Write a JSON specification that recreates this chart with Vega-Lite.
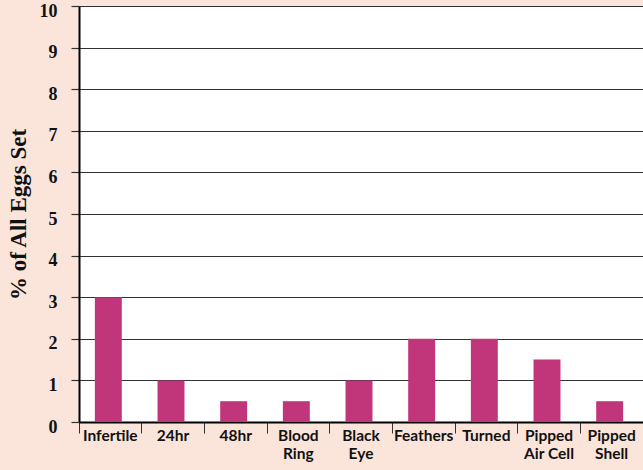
{
  "$schema": "https://vega.github.io/schema/vega-lite/v6.json",
  "width": 564,
  "height": 416,
  "autosize": "none",
  "padding": {"left": 79, "top": 6, "right": 0, "bottom": 48},
  "background": "#fbe5da",
  "config": {"view": {"fill": "white", "stroke": null}},
  "data": {
    "values": [
      {"category": "Infertile", "pct": 3.0},
      {"category": "24hr", "pct": 1.0},
      {"category": "48hr", "pct": 0.5},
      {"category": "Blood Ring", "pct": 0.5},
      {"category": "Black Eye", "pct": 1.0},
      {"category": "Feathers", "pct": 2.0},
      {"category": "Turned", "pct": 2.0},
      {"category": "Pipped Air Cell", "pct": 1.5},
      {"category": "Pipped Shell", "pct": 0.5}
    ]
  },
  "mark": {"type": "bar", "color": "#c1357a", "width": {"band": 0.43}, "xOffset": -2},
  "encoding": {
    "x": {
      "field": "category",
      "type": "nominal",
      "sort": null,
      "scale": {"paddingInner": 0, "paddingOuter": 0},
      "axis": {
        "title": null,
        "labelAngle": 0,
        "labelFont": "Lato",
        "labelFontWeight": "bold",
        "labelFontSize": 15.5,
        "labelColor": "#111",
        "labelPadding": -5,
        "labelLineHeight": 18,
        "labelBaseline": "top",
        "labelOverlap": false,
        "labelExpr": "datum.value == 'Pipped Air Cell' ? ['Pipped', 'Air Cell'] : split(datum.value, ' ')",
        "bandPosition": 0,
        "tickColor": "#333",
        "tickSize": 11,
        "tickWidth": 1,
        "domainColor": "black",
        "domainWidth": 2
      }
    },
    "y": {
      "field": "pct",
      "type": "quantitative",
      "scale": {"domain": [0, 10], "nice": false},
      "axis": {
        "title": "% of All Eggs Set",
        "titleFont": "Liberation Serif",
        "titleFontSize": 23,
        "titleFontWeight": "bold",
        "titleColor": "#111",
        "titlePadding": 9,
        "values": [0, 1, 2, 3, 4, 5, 6, 7, 8, 9, 10],
        "labelFont": "Liberation Serif",
        "labelFontWeight": "bold",
        "labelFontSize": 18,
        "labelColor": "#111",
        "labelPadding": 14,
        "labelBaseline": "middle",
        "labelOffset": 5,
        "grid": true,
        "gridColor": "#333",
        "gridWidth": 1.2,
        "tickColor": "#333",
        "tickSize": 8,
        "tickWidth": 1.2,
        "domainColor": "black",
        "domainWidth": 2
      }
    }
  }
}
